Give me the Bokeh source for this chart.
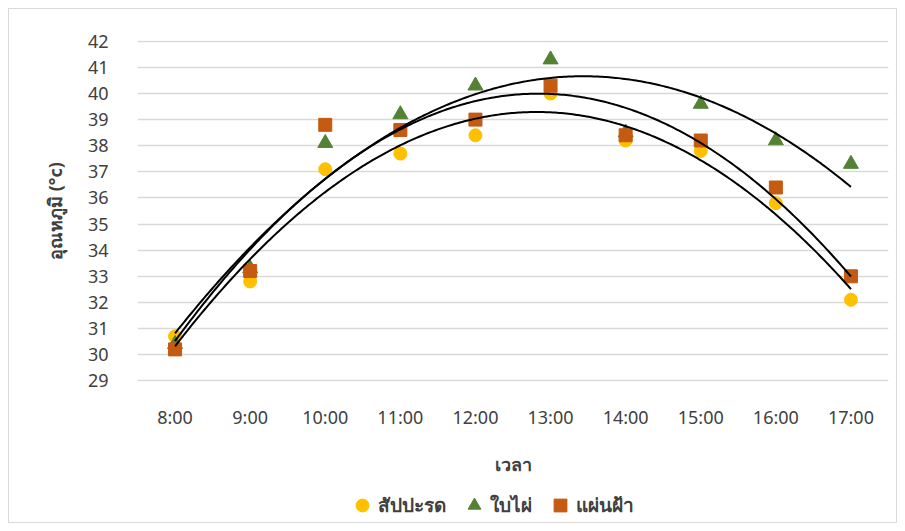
import numpy as np
from bokeh.plotting import figure
from bokeh.layouts import column
from bokeh.models import Range1d, FixedTicker, Legend, LegendItem, ColumnDataSource
from bokeh.embed import file_html
from bokeh.resources import INLINE

# ---- data ----
times = ["8:00", "9:00", "10:00", "11:00", "12:00", "13:00", "14:00", "15:00", "16:00", "17:00"]
x_pos = [1, 2, 3, 4, 5, 6, 7, 8, 9, 10]
pineapple = [30.7, 32.8, 37.1, 37.7, 38.4, 40.0, 38.2, 37.8, 35.8, 32.1]
bamboo = [30.4, 33.3, 38.1, 39.2, 40.3, 41.3, 38.5, 39.6, 38.2, 37.3]
ceiling = [30.2, 33.2, 38.8, 38.6, 39.0, 40.3, 38.4, 38.2, 36.4, 33.0]
series_names = ["สัปปะรด", "ใบไผ่", "แผ่นฝ้า"]
y_ticks = list(range(29, 43))

colors = ["#FFC000", "#548235", "#C55A11"]
markers = ["circle", "triangle", "square"]
sizes = [13, 15, 13]
FONT = "Noto Sans"
TXT = "#404040"

p = figure(width=887, height=470, output_backend="svg", toolbar_location=None,
           x_range=Range1d(0.5, 10.5), y_range=Range1d(28.97, 42.03),
           min_border_left=128, min_border_right=8, min_border_top=31, min_border_bottom=98)
p.outline_line_color = None
p.background_fill_color = "white"
p.border_fill_color = "white"

p.xgrid.visible = False
p.ygrid.grid_line_color = "#D9D9D9"
p.ygrid.grid_line_width = 1.5

p.xaxis.ticker = FixedTicker(ticks=x_pos)
p.xaxis.major_label_overrides = {x: t for x, t in zip(x_pos, times)}
p.yaxis.ticker = FixedTicker(ticks=y_ticks)
for ax in (p.xaxis, p.yaxis):
    ax.axis_line_color = None
    ax.major_tick_line_color = None
    ax.minor_tick_line_color = None
    ax.major_label_text_font = FONT
    ax.major_label_text_font_size = "18px"
    ax.major_label_text_color = TXT
    ax.axis_label_text_font = FONT
    ax.axis_label_text_font_size = "18px"
    ax.axis_label_text_font_style = "bold"
    ax.axis_label_text_color = TXT
p.xaxis.major_label_standoff = 17
p.yaxis.major_label_standoff = 23
p.xaxis.axis_label = "เวลา"
p.yaxis.axis_label = "อุณหภูมิ (°c)"
p.xaxis.axis_label_standoff = 20
p.yaxis.axis_label_standoff = 18

all_series = [pineapple, bamboo, ceiling]
for vals, c, m, s in zip(all_series, colors, markers, sizes):
    src = ColumnDataSource(dict(x=x_pos, y=vals))
    p.scatter("x", "y", source=src, marker=m, size=s, fill_color=c, line_color=c)

xs = np.linspace(min(x_pos), max(x_pos), 300)
for vals in all_series:
    coef = np.polyfit(x_pos, vals, 2)
    p.line(xs, np.polyval(coef, xs), line_color="black", line_width=2)

# legend strip (separate figure below the chart, no visible data)
pl = figure(width=887, height=43, output_backend="svg", toolbar_location=None,
            x_range=Range1d(-20, -19), y_range=Range1d(0, 1),
            min_border=0)
pl.xaxis.visible = False
pl.yaxis.visible = False
pl.grid.visible = False
pl.outline_line_color = None
pl.background_fill_color = "white"
pl.border_fill_color = "white"

items = []
for name, vals, c, m, s in zip(series_names, all_series, colors, markers, sizes):
    src = ColumnDataSource(dict(x=x_pos, y=vals))
    r = pl.scatter("x", "y", source=src, marker=m, size=s, fill_color=c, line_color=c)
    items.append(LegendItem(label=name, renderers=[r]))

legend = Legend(items=items, location=(209, 1), orientation="horizontal",
                glyph_width=32, glyph_height=32, label_standoff=0, spacing=12,
                padding=0, margin=0, border_line_color=None, background_fill_alpha=0,
                label_text_font=FONT, label_text_font_size="19px",
                label_text_font_style="bold", label_text_color=TXT)
pl.add_layout(legend)

layout = column(p, pl, spacing=0)
layout.styles = {"border": "1px solid #D9D9D9", "transform": "translate(8px, 8px)",
                 "background-color": "white"}

open("out.html", "w").write(file_html(layout, INLINE))
